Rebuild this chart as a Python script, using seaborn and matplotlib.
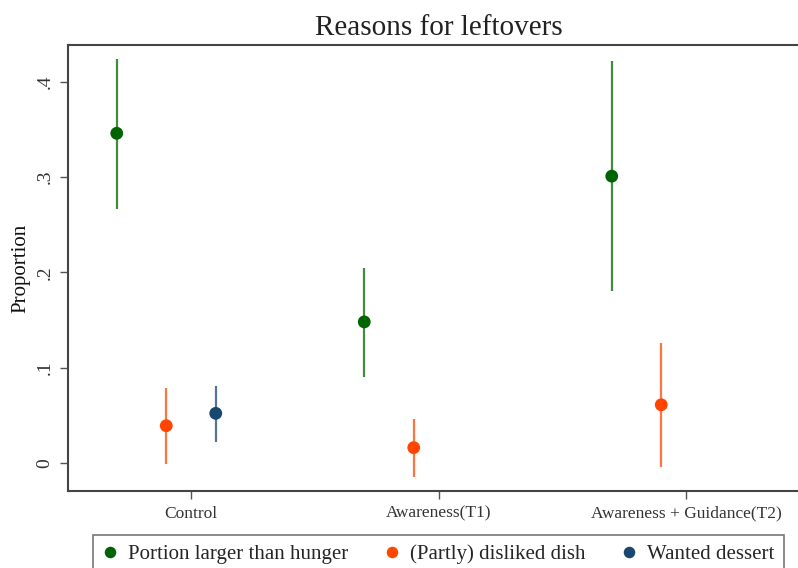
import numpy as np
import pandas as pd
import matplotlib
matplotlib.use("Agg")
import matplotlib.pyplot as plt
import seaborn as sns

groups = ["Control", "Awareness(T1)", "Awareness + Guidance(T2)"]
reasons = ["Portion larger than hunger", "(Partly) disliked dish", "Wanted dessert"]

# estimate, lower CI, upper CI per reason (None = not shown)
portion_est = [0.346, 0.148, 0.301]
portion_lo = [0.266, 0.090, 0.180]
portion_hi = [0.424, 0.205, 0.422]

disliked_est = [0.039, 0.016, 0.061]
disliked_lo = [-0.001, -0.015, -0.004]
disliked_hi = [0.079, 0.046, 0.126]

dessert_est = [0.052, None, None]
dessert_lo = [0.022, None, None]
dessert_hi = [0.081, None, None]

offsets = [-0.3, -0.1, 0.1]
colors = ["#006400", "#ff4500", "#1a476f"]

rows = []
for r, est, lo, hi, off in zip(
        reasons,
        [portion_est, disliked_est, dessert_est],
        [portion_lo, disliked_lo, dessert_lo],
        [portion_hi, disliked_hi, dessert_hi],
        offsets):
    for i, g in enumerate(groups):
        if est[i] is None:
            continue
        rows.append({"reason": r, "group": g, "x": i + off,
                     "est": est[i], "lo": lo[i], "hi": hi[i]})
df = pd.DataFrame(rows)

sns.set_style("white")
plt.rcParams["font.family"] = ["Liberation Serif", "DejaVu Serif"]

fig = plt.figure(figsize=(7.98, 5.68), dpi=100)
ax = fig.add_axes([0.0852, 0.1356, 0.95, 0.7852])

palette = dict(zip(reasons, colors))
for r in reasons:
    sub = df[df["reason"] == r]
    ax.vlines(sub["x"], sub["lo"], sub["hi"], color=palette[r], lw=1.6, alpha=0.75, zorder=2)

sns.scatterplot(data=df, x="x", y="est", hue="reason", hue_order=reasons,
                palette=palette, s=85, edgecolor="none", linewidth=0, ax=ax, zorder=3)

ax.set_xlim(-0.497, 2.566)
ax.set_ylim(-0.0295, 0.4387)
ax.set_xticks(range(len(groups)))
ax.set_xticklabels(groups, fontsize=12.5, color="#333333")
ax.set_yticks([0, 0.1, 0.2, 0.3, 0.4])
ax.set_yticklabels(["0", ".1", ".2", ".3", ".4"], rotation=90, va="center",
                   fontsize=14, color="#333333")
ax.tick_params(axis="both", direction="out", length=5.5, width=1, color="#555555",
               bottom=True, left=True, pad=5)
ax.set_xlabel("")
ax.set_ylabel("Proportion", fontsize=15, color="#111111", labelpad=4)
ax.set_title("Reasons for leftovers", fontsize=21, color="#222222", pad=7, x=0.489)

for side in ["left", "bottom", "top"]:
    ax.spines[side].set_color("#444444")
    ax.spines[side].set_linewidth(1.5)
ax.spines["right"].set_visible(False)

ax.get_legend().remove()
handles, labels = ax.get_legend_handles_labels()
leg = fig.legend(handles, labels, loc="upper center", bbox_to_anchor=(0.549, 0.058),
                 ncol=3, fontsize=15, frameon=True, fancybox=False,
                 edgecolor="#555555", handlelength=0.8, handletextpad=0.45,
                 columnspacing=1.7, borderpad=0.45, borderaxespad=0,
                 markerscale=0.9)
leg.get_frame().set_linewidth(1.2)

fig.savefig("out.png", dpi=100)
